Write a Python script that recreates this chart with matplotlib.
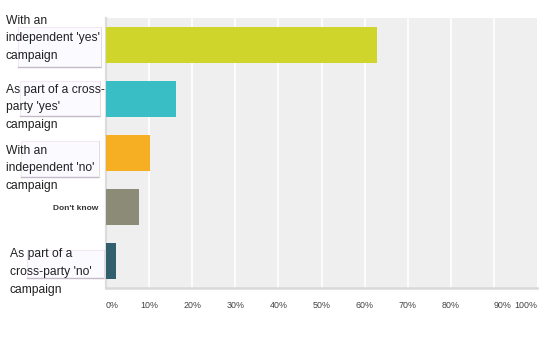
import matplotlib
matplotlib.use("Agg")
import matplotlib.pyplot as plt
from matplotlib.patches import Rectangle
from matplotlib.lines import Line2D

W, H = 556, 337

categories = [
    "With an independent 'yes' campaign",
    "As part of a cross-party 'yes' campaign",
    "With an independent 'no' campaign",
    "Don't know",
    "As part of a cross-party 'no' campaign",
]
label_lines = [
    ["With an", "independent 'yes'", "campaign"],
    ["As part of a cross-", "party 'yes'", "campaign"],
    ["With an", "independent 'no'", "campaign"],
    ["Don't know"],
    ["As part of a", "cross-party 'no'", "campaign"],
]
values = [62.9, 16.2, 10.3, 7.6, 2.4]
colors = ["#cfd52b", "#38bec4", "#f6ae22", "#8b8b77", "#325f6d"]
tick_values = [0, 10, 20, 30, 40, 50, 60, 70, 80, 90, 100]
tick_labels = ["0%", "10%", "20%", "30%", "40%", "50%", "60%", "70%", "80%", "90%", "100%"]

plt.rcParams['font.family'] = ['Liberation Sans', 'DejaVu Sans']

fig = plt.figure(figsize=(W / 100, H / 100), dpi=100)
fig.patch.set_facecolor("white")

def fx(x):
    return x / W

def fy(y):
    return 1 - y / H

ax_l, ax_r, ax_t, ax_b = 106, 537, 18, 288
ax = fig.add_axes([fx(ax_l), fy(ax_b), (ax_r - ax_l) / W, (ax_b - ax_t) / H])
ax.set_facecolor("#efefef")

ypos = list(range(len(categories)))
ax.barh(ypos, values, height=0.667, color=colors, zorder=3)
ax.set_xlim(0, 100)
ax.set_ylim(len(categories) - 0.5, -0.5)

for v in tick_values[1:-1]:
    ax.axvline(v, color="white", lw=1.2, zorder=1)

for s in ["top", "right"]:
    ax.spines[s].set_visible(False)
ax.spines["left"].set_color("#dcdcdc")
ax.spines["left"].set_linewidth(1.6)
ax.spines["bottom"].set_color("#d9d9d9")
ax.spines["bottom"].set_linewidth(1.8)
ax.set_yticks([])
ax.set_xticks([])

# x tick labels
for v, lab in zip(tick_values, tick_labels):
    xp = ax_l + (ax_r - ax_l) * v / 100
    ha = "center"
    if v == 0 or v == 90:
        ha = "left"
    if v == 100:
        ha = "right"
    fig.text(fx(xp), fy(308), lab, ha=ha, va="baseline", fontsize=6.4, color="#444444")

# label boxes (tooltip-like artifacts)
boxes = [(18, 27, 101, 67), (20, 81, 100, 116), (21, 141, 99, 177), (27, 250, 104, 278)]
for (x0, y0, x1, y1) in boxes:
    fig.patches.append(Rectangle((fx(x0), fy(y1)), (x1 - x0) / W, (y1 - y0) / H,
                                 transform=fig.transFigure, facecolor="#fbfaff",
                                 edgecolor="#f3e4f3", lw=0.6, zorder=1))
    fig.lines.append(Line2D([fx(x0), fx(x1)], [fy(y1), fy(y1)], transform=fig.transFigure,
                            color="#c3bac8", lw=1.0, zorder=2))
    fig.lines.append(Line2D([fx(x1), fx(x1)], [fy(y0), fy(y1)], transform=fig.transFigure,
                            color="#e2dce4", lw=0.7, zorder=2))

# category labels
label_x = [6, 6, 6, 98, 10]
label_base = [[24, 41.5, 59], [92.5, 110, 128], [154, 171.5, 189], [209.5], [257, 275, 292.5]]
for i, lines in enumerate(label_lines):
    for line, yb in zip(lines, label_base[i]):
        if len(lines) == 1:
            fig.text(fx(label_x[i]), fy(yb), line, ha="right", va="baseline",
                     fontsize=6.0, fontweight="bold", color="#333333", zorder=5)
        else:
            fig.text(fx(label_x[i]), fy(yb), line, ha="left", va="baseline",
                     fontsize=8.7, color="#222222", zorder=5)

fig.savefig("out.png", dpi=100)
